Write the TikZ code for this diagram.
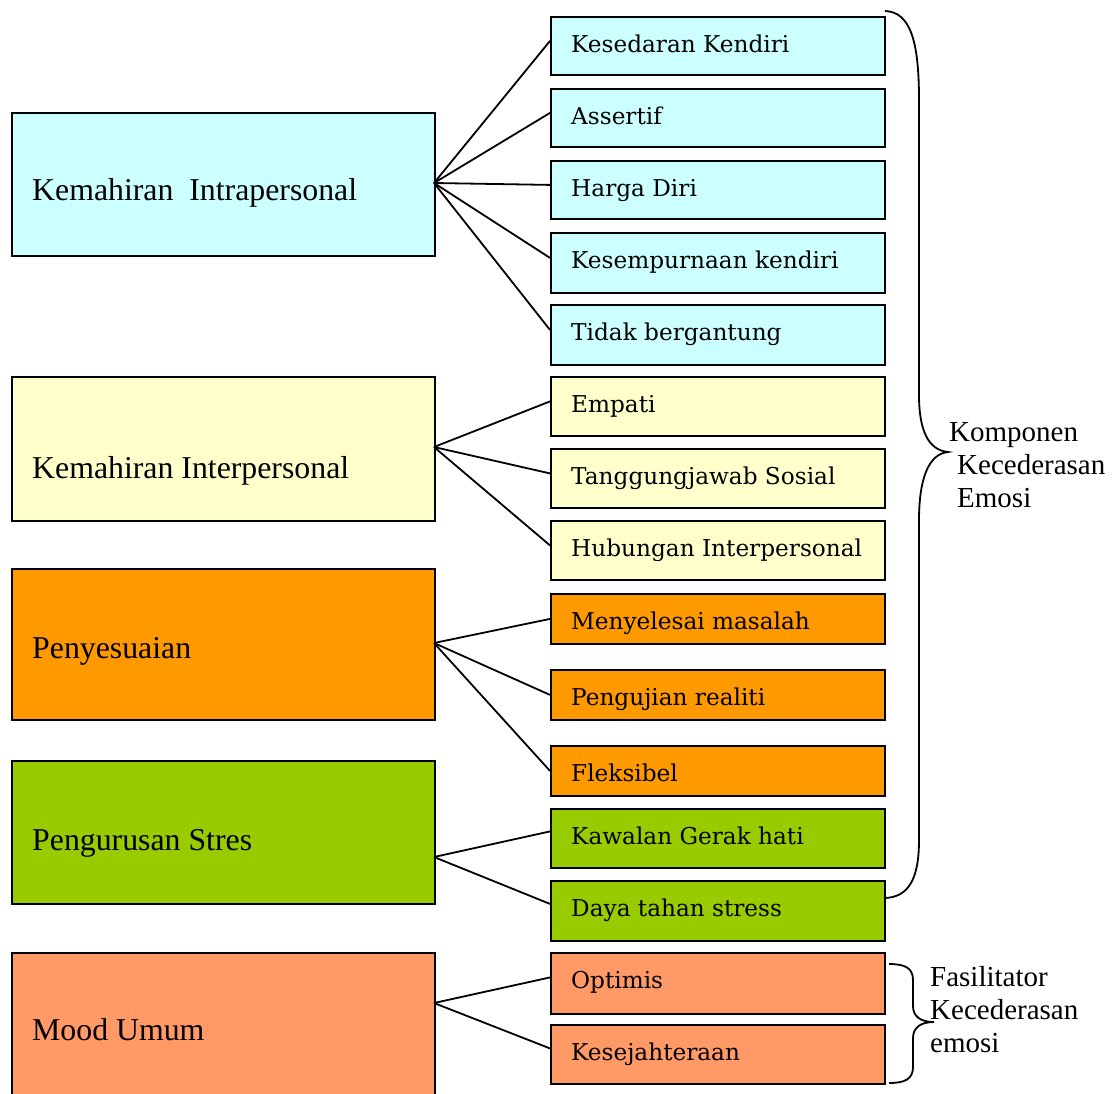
\documentclass[tikz,border=0pt]{standalone}
\usepackage{fontspec}
\setmainfont{Liberation Serif}
\newfontfamily\itemfont{DejaVu Serif}
\usetikzlibrary{positioning}
\definecolor{cyanbox}{HTML}{CCFFFF}
\definecolor{yellowbox}{HTML}{FFFFCC}
\definecolor{orangebox}{HTML}{FF9900}
\definecolor{greenbox}{HTML}{99CC00}
\definecolor{salmonbox}{HTML}{FF9966}
\tikzset{
  groupbox/.style={draw=black, line width=1.8pt, anchor=north west, inner sep=0pt,
    minimum width=423pt},
  itembox/.style={draw=black, line width=1.8pt, anchor=north west, inner sep=0pt,
    minimum width=334pt},
  grouptext/.style={anchor=base west, inner sep=0pt, font=\fontsize{31.8}{36}\selectfont},
  itemtext/.style={anchor=base west, inner sep=0pt, font=\itemfont\fontsize{23.2}{27}\selectfont},
  link/.style={line width=1.8pt},
  brace/.style={line width=1.8pt},
  bracetext/.style={anchor=base west, inner sep=0pt, align=left, font=\fontsize{29}{33}\selectfont}
}
\begin{document}
\begin{tikzpicture}[x=1pt,y=-1pt]
\useasboundingbox (0,0) rectangle (1115,1093);
\clip (0,0) rectangle (1115,1093);

% left-hand groups
\node[groupbox, fill=cyanbox,   minimum height=143pt] (g1) at (11,112) {};
\node[groupbox, fill=yellowbox, minimum height=144pt] (g2) at (11,376) {};
\node[groupbox, fill=orangebox, minimum height=151pt] (g3) at (11,568) {};
\node[groupbox, fill=greenbox,  minimum height=143pt] (g4) at (11,760) {};
\node[groupbox, fill=salmonbox, minimum height=160pt] (g5) at (11,952) {};

\node[grouptext] (t1) at (32,200) {Kemahiran\ \ Intrapersonal};
\node[grouptext] (t2) at (32,478) {Kemahiran Interpersonal};
\node[grouptext] (t3) at (32,658) {Penyesuaian};
\node[grouptext] (t4) at (32,850) {Pengurusan Stres};
\node[grouptext] (t5) at (32,1040) {Mood Umum};

% right-hand components
\node[itembox, fill=cyanbox,   minimum height=58pt] (i1)  at (550,16)  {};
\node[itembox, fill=cyanbox,   minimum height=58pt] (i2)  at (550,88)  {};
\node[itembox, fill=cyanbox,   minimum height=58pt] (i3)  at (550,160) {};
\node[itembox, fill=cyanbox,   minimum height=60pt] (i4)  at (550,232) {};
\node[itembox, fill=cyanbox,   minimum height=60pt] (i5)  at (550,304) {};
\node[itembox, fill=yellowbox, minimum height=59pt] (i6)  at (550,376) {};
\node[itembox, fill=yellowbox, minimum height=59pt] (i7)  at (550,448) {};
\node[itembox, fill=yellowbox, minimum height=59pt] (i8)  at (550,520) {};
\node[itembox, fill=orangebox, minimum height=50pt] (i9)  at (550,593) {};
\node[itembox, fill=orangebox, minimum height=50pt] (i10) at (550,669) {};
\node[itembox, fill=orangebox, minimum height=50pt] (i11) at (550,745) {};
\node[itembox, fill=greenbox,  minimum height=59pt] (i12) at (550,808) {};
\node[itembox, fill=greenbox,  minimum height=60pt] (i13) at (550,880) {};
\node[itembox, fill=salmonbox, minimum height=61pt] (i14) at (550,952) {};
\node[itembox, fill=salmonbox, minimum height=59pt] (i15) at (550,1024) {};

\node[itemtext] (s1)  at (571,52)   {Kesedaran Kendiri};
\node[itemtext] (s2)  at (571,124)  {Assertif};
\node[itemtext] (s3)  at (571,196)  {Harga Diri};
\node[itemtext] (s4)  at (571,268)  {Kesempurnaan kendiri};
\node[itemtext] (s5)  at (571,340)  {Tidak bergantung};
\node[itemtext] (s6)  at (571,412)  {Empati};
\node[itemtext] (s7)  at (571,484)  {Tanggungjawab Sosial};
\node[itemtext] (s8)  at (571,556)  {Hubungan Interpersonal};
\node[itemtext] (s9)  at (571,629)  {Menyelesai masalah};
\node[itemtext] (s10) at (571,705)  {Pengujian realiti};
\node[itemtext] (s11) at (571,781)  {Fleksibel};
\node[itemtext] (s12) at (571,844)  {Kawalan Gerak hati};
\node[itemtext] (s13) at (571,916)  {Daya tahan stress};
\node[itemtext] (s14) at (571,988)  {Optimis};
\node[itemtext] (s15) at (571,1060) {Kesejahteraan};

% hubs on the right edge of each group
\coordinate (h1) at (434,183);
\coordinate (h2) at (434,447);
\coordinate (h3) at (434,643);
\coordinate (h4) at (434,857);
\coordinate (h5) at (434,1003);

\foreach \k in {1,...,5} \draw[link] (h1) -- ([yshift=5pt]i\k.west);
\foreach \k in {6,7,8} \draw[link] (h2) -- ([yshift=5pt]i\k.west);
\foreach \k in {9,10,11} \draw[link] (h3) -- (i\k.west);
\foreach \k in {12,13} \draw[link] (h4) -- ([yshift=7pt]i\k.west);
\foreach \k in {14,15} \draw[link] (h5) -- ([yshift=6pt]i\k.west);

% large brace
\coordinate (bt) at (885,11);
\coordinate (bm) at (948,452);
\coordinate (bb) at (885,898);
\draw[brace] (bt) .. controls (910,12) and (919,40) .. (919,100)
  -- (919,395) .. controls (919,430) and (928,450) .. (bm)
  .. controls (928,454) and (919,480) .. (919,520)
  -- (919,840) .. controls (919,880) and (908,897) .. (bb);
\node[bracetext] (k1) at (949,441) {Komponen};
\node[bracetext] (k2) at (957,474) {Kecederasan};
\node[bracetext] (k3) at (957,507) {Emosi};

% small brace
\coordinate (ct) at (889,964);
\coordinate (cm) at (934,1022);
\coordinate (cb) at (889,1083);
\draw[brace] (ct) .. controls (905,964) and (913,968) .. (913,980)
  -- (913,1006) .. controls (913,1016) and (920,1022) .. (cm)
  .. controls (920,1022) and (913,1028) .. (913,1038)
  -- (913,1067) .. controls (913,1079) and (905,1083) .. (cb);
\node[bracetext] (f1) at (930,986)  {Fasilitator};
\node[bracetext] (f2) at (930,1019) {Kecederasan};
\node[bracetext] (f3) at (930,1052) {emosi};
\end{tikzpicture}
\end{document}
